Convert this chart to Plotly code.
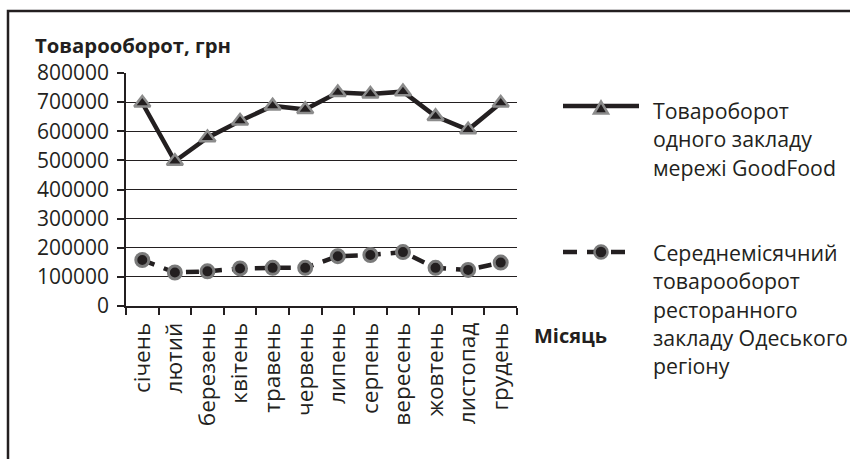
import plotly.graph_objects as go

# Months (Ukrainian) and monthly turnover, UAH
months = ["січень", "лютий", "березень", "квітень", "травень", "червень",
          "липень", "серпень", "вересень", "жовтень", "листопад", "грудень"]
goodfood = [697000, 497000, 578000, 635000, 687000, 675000,
            733000, 728000, 736000, 651000, 605000, 697000]
odesa_avg = [158000, 115000, 119000, 129000, 131000, 131000,
             171000, 175000, 185000, 131000, 124000, 149000]

legend_goodfood = ["Товароборот", "одного закладу", "мережі GoodFood"]
legend_odesa = ["Середнемісячний", "товарооборот", "ресторанного",
                "закладу Одеського", "регіону"]
y_ticks = [0, 100000, 200000, 300000, 400000, 500000, 600000, 700000, 800000]

INK = "#231f20"
GREY = "#8c8c8c"
FONT = "Open Sans"

W, H = 850, 459
ML, MR, MT, MB = 126, 333, 73, 153
PW, PH = W - ML - MR, H - MT - MB


def px_x(px):
    """Pixel column -> paper x."""
    return (px - ML) / PW


def px_y(py):
    """Pixel row -> paper y."""
    return (H - MB - py) / PH


fig = go.Figure()
fig.add_trace(go.Scatter(
    x=months, y=goodfood, mode="lines+markers", showlegend=False,
    line=dict(color=INK, width=4.5),
    marker=dict(symbol="triangle-up", size=14, color=INK,
                line=dict(color=GREY, width=2.5)),
))
fig.add_trace(go.Scatter(
    x=months, y=odesa_avg, mode="lines+markers", showlegend=False,
    line=dict(color=INK, width=4.5, dash="13px,10px"),
    marker=dict(symbol="circle", size=13, color=INK,
                line=dict(color="#7a7a7a", width=3)),
))

annotations = [
    dict(text="<b>Товарооборот, грн</b>", xref="paper", yref="paper",
         x=px_x(33), y=px_y(45), xanchor="left", yanchor="middle",
         showarrow=False, font=dict(family=FONT, size=20.3, color=INK)),
    dict(text="<b>Місяць</b>", xref="paper", yref="paper",
         x=px_x(532), y=px_y(335), xanchor="left", yanchor="middle",
         showarrow=False, font=dict(family=FONT, size=20, color=INK)),
]

# Legend text, one annotation per line
LEG_FONT = dict(family=FONT, size=21.3, color=INK)
LINE_STEP = 28.5
for block, top in ((legend_goodfood, 110), (legend_odesa, 252)):
    for i, line in enumerate(block):
        annotations.append(dict(
            text=line, xref="paper", yref="paper",
            x=px_x(651), y=px_y(top + i * LINE_STEP),
            xanchor="left", yanchor="middle", showarrow=False, font=LEG_FONT))


def triangle_path(cx, cy, w, h):
    x0, x1, xm = px_x(cx - w / 2), px_x(cx + w / 2), px_x(cx)
    yb, yt = px_y(cy + h / 2), px_y(cy - h / 2)
    return f"M{x0},{yb} L{x1},{yb} L{xm},{yt} Z"


shapes = [
    # outer frame
    dict(type="rect", xref="paper", yref="paper",
         x0=px_x(8), x1=px_x(860), y0=px_y(470), y1=px_y(11),
         line=dict(color=INK, width=2.5), layer="below"),
    # legend sample: solid line with triangle
    dict(type="line", xref="paper", yref="paper",
         x0=px_x(563), x1=px_x(639), y0=px_y(106), y1=px_y(106),
         line=dict(color=INK, width=4.5)),
    dict(type="path", xref="paper", yref="paper",
         path=triangle_path(601, 107.5, 14, 12),
         fillcolor=INK, line=dict(color=GREY, width=2.5)),
    # legend sample: dashed line with circle
    dict(type="line", xref="paper", yref="paper",
         x0=px_x(563), x1=px_x(626), y0=px_y(252), y1=px_y(252),
         line=dict(color=INK, width=4.5, dash="14px,10px")),
    dict(type="circle", xref="paper", yref="paper",
         x0=px_x(594.5), x1=px_x(607.5), y0=px_y(258.5), y1=px_y(245.5),
         fillcolor=INK, line=dict(color="#7a7a7a", width=2.5)),
]

fig.update_layout(
    width=W, height=H,
    margin=dict(l=ML, r=MR, t=MT, b=MB),
    paper_bgcolor="white", plot_bgcolor="white",
    font=dict(family=FONT, color=INK, size=21),
    showlegend=False,
    xaxis=dict(
        type="category", categoryorder="array", categoryarray=months,
        range=[-0.5, 11.5],
        showline=True, linecolor=INK, linewidth=1.5,
        ticks="outside", ticklen=7, tickcolor=INK, tickwidth=1.5,
        tickson="boundaries", tickangle=-90, showgrid=False,
        ticklabelstandoff=6,
        tickfont=dict(family=FONT, size=22.5, color=INK),
    ),
    yaxis=dict(
        range=[0, 800000], tickvals=y_ticks,
        ticktext=[str(v) for v in y_ticks],
        showline=True, linecolor=INK, linewidth=1.5,
        ticks="outside", ticklen=7, tickcolor=INK, tickwidth=1.5,
        ticklabelstandoff=4,
        showgrid=True, gridcolor=INK, gridwidth=1.2,
        zeroline=False,
        tickfont=dict(family=FONT, size=21, color=INK),
    ),
    annotations=annotations,
    shapes=shapes,
)

fig.write_html("out.html")
